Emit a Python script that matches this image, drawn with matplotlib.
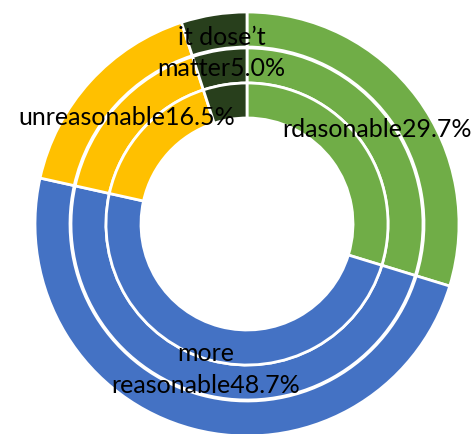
import numpy as np
import matplotlib
matplotlib.use("Agg")
import matplotlib.pyplot as plt

labels = ["rdasonable", "more\nreasonable", "unreasonable", "it dose\u2019t\nmatter"]
shares = [29.7, 48.7, 16.5, 5.0]
colors = ["#70AD47", "#4472C4", "#FFC000", "#283F1C"]

plt.rcParams["font.family"] = ["Lato", "DejaVu Sans"]

fig = plt.figure(figsize=(4.73, 4.34), dpi=100)
ax = fig.add_axes([0, 0, 1, 1])

cx, cy = 247, 210
ring_width = 35
wedges = None
for r in [212, 176, 141]:
    wedges, _ = ax.pie(shares, colors=colors, radius=r, center=(cx, cy),
                       startangle=90, counterclock=False, frame=True,
                       wedgeprops=dict(width=ring_width, edgecolor="white", linewidth=2))

ax.set_xlim(0, 473)
ax.set_ylim(0, 434)
ax.set_aspect("equal")
ax.axis("off")

# labels sit around the middle ring; two-line labels are lifted a bit
r_lab = 162
for w, lab, v in zip(wedges, labels, shares):
    ang = np.deg2rad((w.theta1 + w.theta2) / 2)
    x = cx + r_lab * np.cos(ang)
    y = cy + r_lab * np.sin(ang)
    if "\n" in lab:
        y += 11
    else:
        y -= 2
    ax.text(x, y, f"{lab}{v:.1f}%", ha="center", va="center", fontsize=18,
            color="black", linespacing=1.45)

fig.savefig("out.png", dpi=100)
